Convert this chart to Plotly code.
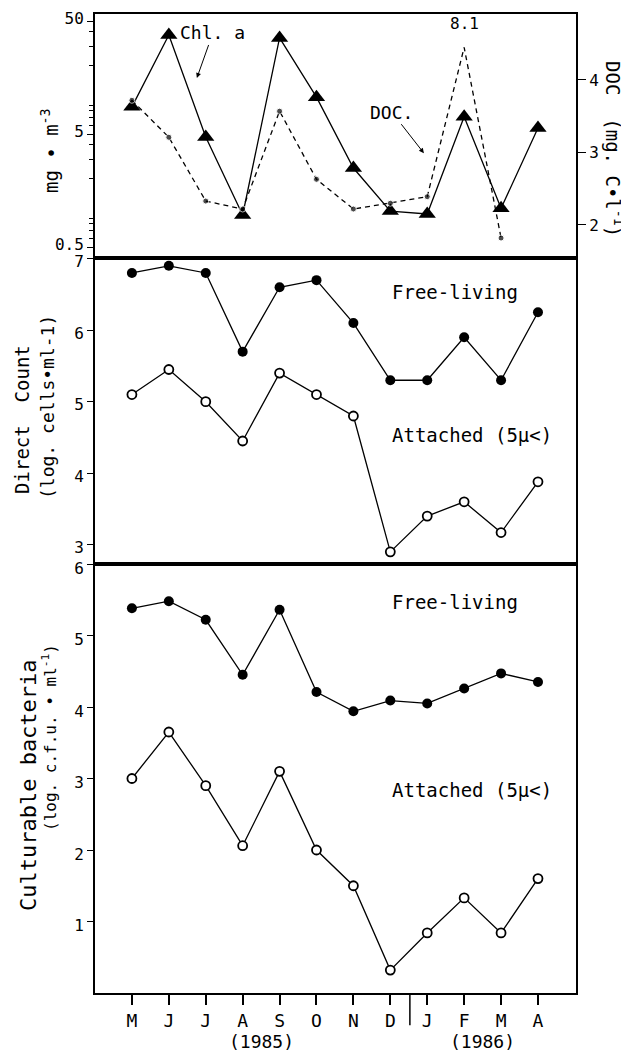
import plotly.graph_objects as go

months = ["M", "J", "J", "A", "S", "O", "N", "D", "J", "F", "M", "A"]
x_idx = list(range(len(months)))

chl_a = [8.7, 37.6, 4.7, 0.96, 35.4, 10.6, 2.5, 1.04, 0.98, 7.1, 1.1, 5.65]
doc = [3.72, 3.21, 2.33, 2.22, 3.57, 2.63, 2.22, 2.30, 2.39, 8.1, 1.82, None]
DOC_CLIP = 4.45

dc_free = [6.8, 6.9, 6.8, 5.7, 6.6, 6.7, 6.1, 5.3, 5.3, 5.9, 5.3, 6.25]
dc_att = [5.1, 5.45, 5.0, 4.45, 5.4, 5.1, 4.8, 2.9, 3.4, 3.6, 3.17, 3.88]

cb_free = [5.38, 5.48, 5.22, 4.45, 5.36, 4.21, 3.94, 4.09, 4.05, 4.26, 4.47, 4.35]
cb_att = [3.0, 3.65, 2.9, 2.06, 3.1, 2.0, 1.5, 0.32, 0.84, 1.33, 0.84, 1.6]

FONT = "DejaVu Sans Mono"
BLK = "black"

doc_plot = [None if v is None else min(v, DOC_CLIP) for v in doc]
doc_msize = [0 if (v is not None and v > DOC_CLIP) else 6 for v in doc]

fig = go.Figure()

# Top panel: Chl a (log, left) and DOC (right)
fig.add_trace(go.Scatter(x=x_idx, y=doc_plot, xaxis="x3", yaxis="y4", mode="lines+markers",
                         line=dict(color=BLK, width=1.3, dash="5px,4px"),
                         marker=dict(color=BLK, size=doc_msize), connectgaps=False))
fig.add_trace(go.Scatter(x=x_idx, y=chl_a, xaxis="x3", yaxis="y3", mode="lines+markers",
                         line=dict(color=BLK, width=1.3),
                         marker=dict(symbol="triangle-up", color=BLK, size=15)))

# Middle panel
fig.add_trace(go.Scatter(x=x_idx, y=dc_free, xaxis="x2", yaxis="y2", mode="lines+markers",
                         line=dict(color=BLK, width=1.3), marker=dict(color=BLK, size=10)))
fig.add_trace(go.Scatter(x=x_idx, y=dc_att, xaxis="x2", yaxis="y2", mode="lines+markers",
                         line=dict(color=BLK, width=1.3),
                         marker=dict(color="white", size=9, line=dict(color=BLK, width=1.8))))

# Bottom panel
fig.add_trace(go.Scatter(x=x_idx, y=cb_free, xaxis="x", yaxis="y", mode="lines+markers",
                         line=dict(color=BLK, width=1.3), marker=dict(color=BLK, size=10)))
fig.add_trace(go.Scatter(x=x_idx, y=cb_att, xaxis="x", yaxis="y", mode="lines+markers",
                         line=dict(color=BLK, width=1.3),
                         marker=dict(color="white", size=9, line=dict(color=BLK, width=1.8))))

XR = [-1, 12.03]
common_x = dict(range=XR, showgrid=False, zeroline=False, showline=True, linecolor=BLK,
                linewidth=2, mirror=True, automargin=False)
common_y = dict(showgrid=False, zeroline=False, showline=True, linecolor=BLK, linewidth=2,
                mirror=True, ticks="outside", ticklen=6, tickcolor=BLK, tickwidth=1.3,
                automargin=False, tickfont=dict(family=FONT, size=16, color=BLK))

# page body has an 8px offset, so the figure is 8px smaller and margins shifted
fig.update_layout(
    width=621, height=1044,
    margin=dict(l=87, r=53, t=6, b=59, autoexpand=False),
    paper_bgcolor="white", plot_bgcolor="white",
    showlegend=False,
    font=dict(family=FONT, size=17, color=BLK),
    xaxis=dict(**common_x, anchor="y", tickmode="array", tickvals=x_idx, ticktext=months,
               ticks="outside", ticklen=10, tickwidth=1.5, tickcolor=BLK,
               tickfont=dict(family=FONT, size=18, color=BLK)),
    xaxis2=dict(**common_x, anchor="y2", matches="x", showticklabels=False, ticks=""),
    xaxis3=dict(**common_x, anchor="y3", matches="x", showticklabels=False, ticks=""),
    yaxis=dict(**common_y, domain=[0, 0.4382], range=[0, 6.0], tickvals=[1, 2, 3, 4, 5, 6],
               ticklabelshift=4),
    yaxis2=dict(**common_y, domain=[0.4382, 0.7508], range=[2.73, 7.01], tickvals=[3, 4, 5, 6, 7],
                ticklabelshift=3),
    yaxis3=dict(**common_y, domain=[0.7508, 1.0], type="log", range=[-0.398, 1.761],
                tickvals=[0.5, 5, 50], ticktext=["0.5", "5", "50"], ticklabelshift=-3,
                minor=dict(ticks="outside", ticklen=4, tickcolor=BLK,
                           tickvals=[0.6, 0.7, 0.8, 0.9, 2, 3, 4, 6, 7, 8, 9, 20, 30, 40])),
    yaxis4=dict(overlaying="y3", side="right", anchor="x3", range=[1.545, 4.91],
                tickvals=[2, 3, 4], showgrid=False, zeroline=False, showline=True,
                linecolor=BLK, linewidth=2, ticks="outside", ticklen=8, tickcolor=BLK,
                tickwidth=1.3, automargin=False, tickfont=dict(family=FONT, size=16, color=BLK)),
)

ann = []
def txt(x, y, t, xref, yref, size=19, **kw):
    d = dict(x=x, y=y, text=t, xref=xref, yref=yref, showarrow=False,
             xanchor="center", yanchor="middle",
             font=dict(family=FONT, size=size, color=BLK))
    d.update(kw)
    ann.append(d)

# panel labels
txt(7, 6.54, "Free-living", "x2", "y2", xanchor="left")
txt(7, 4.54, "Attached (5µ<)", "x2", "y2", xanchor="left")
txt(7, 5.47, "Free-living", "x", "y", xanchor="left")
txt(7, 2.84, "Attached (5µ<)", "x", "y", xanchor="left")

# top annotations with arrows (arrow head at data point, text offset in pixels)
ann.append(dict(x=1.76, y=1.195, xref="x3", yref="y3", ax=16, ay=-45, text="Chl. a",
                showarrow=True, arrowhead=2, arrowsize=1, arrowwidth=1, arrowcolor=BLK,
                standoff=0, font=dict(family=FONT, size=18, color=BLK)))
ann.append(dict(x=7.91, y=2.99, xref="x3", yref="y4", ax=-32, ay=-41, text="DOC.",
                showarrow=True, arrowhead=2, arrowsize=1, arrowwidth=1, arrowcolor=BLK,
                standoff=0, font=dict(family=FONT, size=18, color=BLK)))
txt(9, 4.62, "8.1", "x3", "y4", size=16, yanchor="bottom")

# axis titles (one annotation per line, as laid out in the reference)
txt(-0.0936, 0.861, "mg • m<sup>-3</sup>", "paper", "paper", size=19, textangle=-90)
txt(1.079, 0.862, "DOC  (mg. C•l<sup>-1</sup>)", "paper", "paper", size=19, textangle=90)
txt(-0.152, 0.5863, "Direct  Count", "paper", "paper", size=19, textangle=-90)
txt(-0.0977, 0.5986, "(log. cells•ml-1)", "paper", "paper", size=18, textangle=-90)
txt(-0.137, 0.2125, "Culturable bacteria", "paper", "paper", size=22, textangle=-90)
txt(-0.0936, 0.2615, "(log. c.f.u. • ml<sup>-1</sup>)", "paper", "paper", size=16, textangle=-90)

# year labels
txt(3.5, -0.05, "(1985)", "x", "paper", size=18)
txt(9.5, -0.05, "(1986)", "x", "paper", size=18)

fig.update_layout(annotations=ann)

# year separator below the axis
fig.add_shape(type="line", xref="x", yref="paper", x0=7.53, x1=7.53, y0=0, y1=-0.033,
              line=dict(color=BLK, width=1.5))

fig.write_html("out.html")
